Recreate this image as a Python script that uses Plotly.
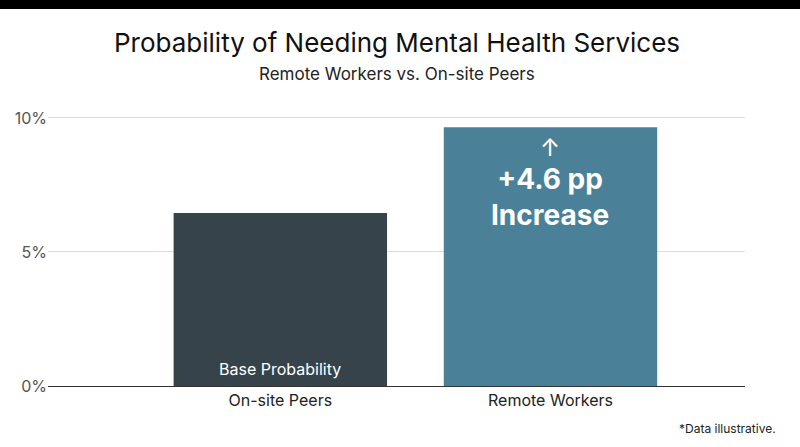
import plotly.graph_objects as go

categories = ["On-site Peers", "Remote Workers"]
values = [6.45, 9.65]
colors = ["#36434a", "#4b8198"]
tick_vals = [0, 5, 10]
tick_text = ["0%", "5%", "10%"]

F = "Inter, Roboto, sans-serif"
fig = go.Figure(go.Bar(x=categories, y=values, marker_color=colors, width=0.79,
                       marker_line_width=0, hoverinfo="skip"))
fig.update_layout(
    width=800, height=447, plot_bgcolor="white", paper_bgcolor="white",
    margin=dict(l=48, r=55, t=100, b=61), showlegend=False,
    font=dict(family=F, color="#222"),
    xaxis=dict(range=[-0.86, 1.72], showgrid=False, showline=True, linecolor="#333",
               linewidth=1, tickfont=dict(size=16, color="#222"), ticks=""),
    yaxis=dict(range=[0, 10.67], tickvals=tick_vals, ticktext=tick_text, gridcolor="#dddddd",
               showline=False, zeroline=False, tickfont=dict(size=16, color="#555"), ticks=""),
    shapes=[dict(type="rect", xref="paper", yref="paper", x0=-0.2, x1=1.2,
                 y0=1 + 91/286, y1=2, fillcolor="black", line_width=0, layer="above")],
    annotations=[
        dict(text="Probability of Needing Mental Health Services", xref="paper", yref="paper",
             x=0.5, xanchor="center", y=1 + (100-43)/286, yanchor="middle", showarrow=False,
             font=dict(size=26, color="#111")),
        dict(text="Remote Workers vs. On-site Peers", x=0.5, xref="paper", yref="paper",
             y=1 + (100-74)/286, yanchor="middle", showarrow=False, font=dict(size=17, color="#222")),
        dict(text="Base Probability", x=categories[0], y=0.65, xref="x", yref="y", showarrow=False,
             font=dict(size=16, color="white")),
        dict(text="↑", x=categories[1], y=(386-148)/26.8, xref="x", yref="y", showarrow=False,
             font=dict(size=24, color="white")),
        dict(text="<b>+4.6 pp<br>Increase</b>", x=categories[1], y=(386-197)/26.8, xref="x", yref="y",
             showarrow=False, font=dict(size=28, color="white")),
        dict(text="*Data illustrative.", xref="paper", yref="paper", x=(778-48)/697, xanchor="right",
             y=-(428-386)/286, yanchor="middle", showarrow=False, font=dict(size=12, color="#222")),
    ],
)
fig.write_html("out.html", config={"displayModeBar": False},
               post_script="document.body.style.margin='0';")
